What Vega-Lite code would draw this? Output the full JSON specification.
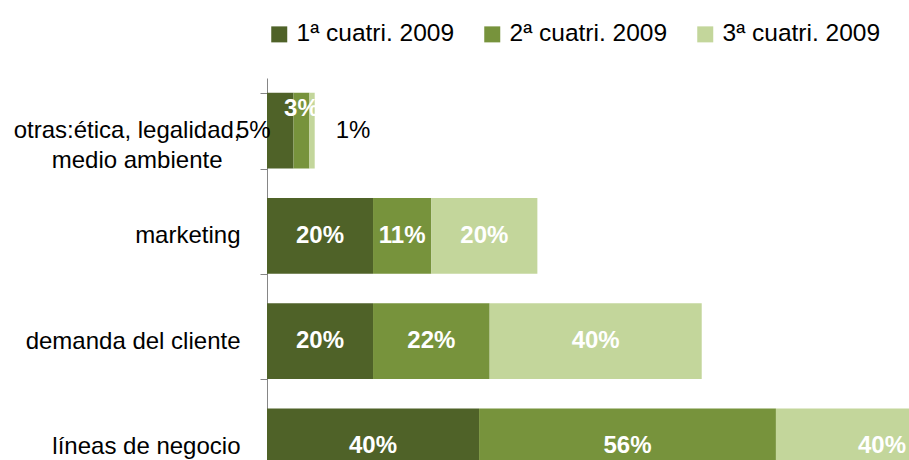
{
  "$schema": "https://vega.github.io/schema/vega-lite/v6.json",
  "width": 642,
  "height": 382,
  "autosize": {"type": "none"},
  "padding": {"left": 267, "top": 78, "right": 0, "bottom": 0},
  "background": "white",
  "config": {
    "view": {"stroke": null},
    "font": "Liberation Sans"
  },
  "data": {
    "values": [
      {"categoria": "otras:ética, legalidad, medio ambiente", "periodo": "1ª cuatri. 2009", "orden": 1, "valor": 0.05},
      {"categoria": "otras:ética, legalidad, medio ambiente", "periodo": "2ª cuatri. 2009", "orden": 2, "valor": 0.03},
      {"categoria": "otras:ética, legalidad, medio ambiente", "periodo": "3ª cuatri. 2009", "orden": 3, "valor": 0.01},
      {"categoria": "marketing", "periodo": "1ª cuatri. 2009", "orden": 1, "valor": 0.20},
      {"categoria": "marketing", "periodo": "2ª cuatri. 2009", "orden": 2, "valor": 0.11},
      {"categoria": "marketing", "periodo": "3ª cuatri. 2009", "orden": 3, "valor": 0.20},
      {"categoria": "demanda del cliente", "periodo": "1ª cuatri. 2009", "orden": 1, "valor": 0.20},
      {"categoria": "demanda del cliente", "periodo": "2ª cuatri. 2009", "orden": 2, "valor": 0.22},
      {"categoria": "demanda del cliente", "periodo": "3ª cuatri. 2009", "orden": 3, "valor": 0.40},
      {"categoria": "líneas de negocio", "periodo": "1ª cuatri. 2009", "orden": 1, "valor": 0.40},
      {"categoria": "líneas de negocio", "periodo": "2ª cuatri. 2009", "orden": 2, "valor": 0.56},
      {"categoria": "líneas de negocio", "periodo": "3ª cuatri. 2009", "orden": 3, "valor": 0.40}
    ]
  },
  "transform": [
    {"stack": "valor", "groupby": ["categoria"], "sort": [{"field": "orden"}], "as": ["x0", "x1"]},
    {"calculate": "(datum.x0 + datum.x1) / 2", "as": "xmid"}
  ],
  "encoding": {
    "y": {
      "field": "categoria",
      "type": "nominal",
      "sort": ["otras:ética, legalidad, medio ambiente", "marketing", "demanda del cliente", "líneas de negocio"],
      "scale": {"range": [0, 421], "paddingInner": 0.28, "paddingOuter": 0.14},
      "axis": {
        "title": null,
        "tickBand": "extent",
        "domainColor": "#868686",
        "tickColor": "#868686",
        "tickSize": 7,
        "labelPadding": 20,
        "labelFontSize": 24,
        "labelColor": "#000000",
        "labelLineHeight": 30,
        "labelLimit": 400,
        "labelExpr": "datum.value == 'otras:ética, legalidad, medio ambiente' ? ['otras:ética, legalidad,', 'medio ambiente\u2800'] : datum.value"
      }
    },
    "x": {"field": "x0", "type": "quantitative", "scale": {"domain": [0, 1.211], "nice": false}, "axis": null}
  },
  "layer": [
    {
      "mark": {"type": "bar", "clip": true},
      "encoding": {
        "x2": {"field": "x1"},
        "color": {
          "field": "periodo",
          "type": "nominal",
          "scale": {"domain": ["1ª cuatri. 2009", "2ª cuatri. 2009", "3ª cuatri. 2009"], "range": ["#4F6228", "#77933C", "#C3D69B"]},
          "legend": {
            "orient": "top",
            "title": null,
            "symbolType": "square",
            "symbolSize": 256,
            "symbolStrokeWidth": 0,
            "labelFontSize": 24.5,
            "labelColor": "#000000",
            "labelOffset": 5,
            "columnPadding": 25,
            "offset": 32,
            "padding": 0
          }
        }
      }
    },
    {
      "transform": [{"filter": "datum.categoria != 'otras:ética, legalidad, medio ambiente'"}],
      "mark": {"type": "text", "color": "white", "fontWeight": "bold", "fontSize": 24, "align": "center", "baseline": "middle"},
      "encoding": {
        "x": {"field": "xmid", "type": "quantitative"},
        "text": {"field": "valor", "type": "quantitative", "format": ".0%"}
      }
    },
    {
      "transform": [{"filter": "datum.categoria == 'otras:ética, legalidad, medio ambiente' && datum.orden == 1"}],
      "mark": {"type": "text", "color": "black", "fontSize": 24, "align": "center", "baseline": "middle", "dx": -27},
      "encoding": {
        "x": {"field": "xmid", "type": "quantitative"},
        "text": {"field": "valor", "type": "quantitative", "format": ".0%"}
      }
    },
    {
      "transform": [{"filter": "datum.categoria == 'otras:ética, legalidad, medio ambiente' && datum.orden == 2"}],
      "mark": {"type": "text", "color": "white", "fontWeight": "bold", "fontSize": 24, "align": "center", "baseline": "middle", "dy": -22},
      "encoding": {
        "x": {"field": "xmid", "type": "quantitative"},
        "text": {"field": "valor", "type": "quantitative", "format": ".0%"}
      }
    },
    {
      "transform": [{"filter": "datum.categoria == 'otras:ética, legalidad, medio ambiente' && datum.orden == 3"}],
      "mark": {"type": "text", "color": "black", "fontSize": 24, "align": "center", "baseline": "middle", "dx": 41},
      "encoding": {
        "x": {"field": "xmid", "type": "quantitative"},
        "text": {"field": "valor", "type": "quantitative", "format": ".0%"}
      }
    }
  ]
}
